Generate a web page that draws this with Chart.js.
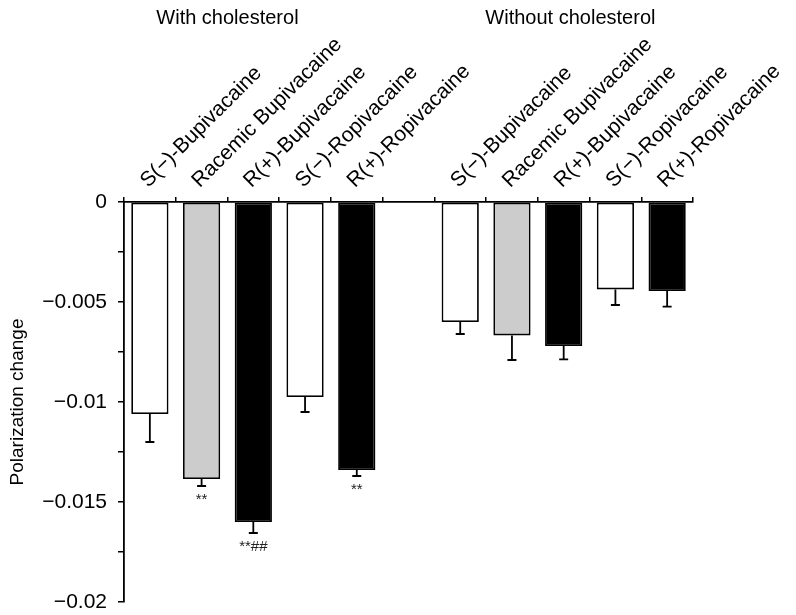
<!DOCTYPE html>
<html>
<head>
<meta charset="utf-8">
<script src="https://cdn.jsdelivr.net/npm/chart.js@4.4.0/dist/chart.umd.min.js"></script>
<style>
  html, body { margin: 0; padding: 0; background: #fff; }
  #wrap { width: 796px; height: 615px; position: relative; }
</style>
</head>
<body>
<div id="wrap"><canvas id="c" width="796" height="615"></canvas></div>
<script>
// ---- data ----
const categories = [
  'S(\u2212)-Bupivacaine', 'Racemic Bupivacaine', 'R(+)-Bupivacaine', 'S(\u2212)-Ropivacaine', 'R(+)-Ropivacaine',
  '',
  'S(\u2212)-Bupivacaine', 'Racemic Bupivacaine', 'R(+)-Bupivacaine', 'S(\u2212)-Ropivacaine', 'R(+)-Ropivacaine'
];
const values = [-0.0106, -0.01385, -0.0160, -0.00975, -0.0134, null, -0.0060, -0.00667, -0.0072, -0.00437, -0.00445];
const errors = [0.0014, 0.00035, 0.00055, 0.00075, 0.0003, null, 0.0006, 0.00123, 0.00067, 0.00078, 0.00078];
const marks  = ['', '**', '**##', '', '**', '', '', '', '', '', ''];
const barColors = ['#ffffff', '#cccccc', '#000000', '#ffffff', '#000000', '#ffffff', '#ffffff', '#cccccc', '#000000', '#ffffff', '#000000'];
const groupTitles = ['With cholesterol', 'Without cholesterol'];
const groupTitlePos = [1.5, 8.13];
const yTickLabels = { '0': '0', '-0.005': '\u22120.005', '-0.01': '\u22120.01', '-0.015': '\u22120.015', '-0.02': '\u22120.02' };

const FONT = "'Liberation Sans', Arial, sans-serif";

const extrasPlugin = {
  id: 'extras',
  afterDatasetsDraw(chart) {
    const ctx = chart.ctx;
    const x = chart.scales.x, y = chart.scales.y;
    ctx.save();
    ctx.strokeStyle = '#000';
    ctx.lineWidth = 1.8;
    values.forEach((v, i) => {
      if (v === null) return;
      const px = x.getPixelForValue(i);
      const y0 = y.getPixelForValue(v);
      const y1 = y.getPixelForValue(v - errors[i]);
      ctx.beginPath();
      ctx.moveTo(px, y0);
      ctx.lineTo(px, y1);
      ctx.moveTo(px - 4.5, y1);
      ctx.lineTo(px + 4.5, y1);
      ctx.stroke();
      if (marks[i]) {
        ctx.fillStyle = '#222';
        ctx.font = '15px ' + FONT;
        ctx.textAlign = 'center';
        ctx.textBaseline = 'top';
        ctx.fillText(marks[i], px, y1 + 6);
      }
    });
    ctx.fillStyle = '#000';
    ctx.font = '20px ' + FONT;
    ctx.textAlign = 'center';
    ctx.textBaseline = 'middle';
    groupTitles.forEach((t, k) => {
      ctx.fillText(t, x.getPixelForValue(groupTitlePos[k]), 18);
    });
    ctx.restore();
  }
};

new Chart(document.getElementById('c'), {
  type: 'bar',
  data: {
    labels: categories,
    datasets: [{
      data: values,
      backgroundColor: barColors,
      borderColor: '#000',
      borderWidth: 1.8,
      borderSkipped: false,
      categoryPercentage: 1.0,
      barPercentage: 0.72
    }]
  },
  options: {
    responsive: false,
    animation: false,
    devicePixelRatio: 1,
    layout: { padding: { left: 0, top: 0, right: 103, bottom: 13 } },
    plugins: { legend: { display: false }, tooltip: { enabled: false } },
    scales: {
      x: {
        position: 'top',
        grid: { display: true, drawOnChartArea: false, drawTicks: true, tickLength: 5, color: '#000', lineWidth: 1.5, offset: true },
        border: { display: true, color: '#000', width: 1.8 },
        ticks: {
          autoSkip: false, minRotation: 45, maxRotation: 45,
          color: '#000', font: { family: FONT, size: 21 }, padding: 4, labelOffset: 12
        },
        afterFit(scale) { scale.height = 202; }
      },
      y: {
        min: -0.02, max: 0,
        grid: { display: true, drawOnChartArea: false, drawTicks: true, tickLength: 6, color: '#000', lineWidth: 1.5 },
        border: { display: true, color: '#000', width: 1.8 },
        ticks: {
          stepSize: 0.0025,
          color: '#000', font: { family: FONT, size: 21 }, padding: 11,
          callback(v) {
            const key = String(Math.round(v * 1000) / 1000);
            const r = Math.round(v * 10000) / 10000;
            if (Math.abs(r * 200 - Math.round(r * 200)) > 1e-6) return '';
            return yTickLabels[key] !== undefined ? yTickLabels[key] : '';
          }
        },
        title: { display: true, text: 'Polarization change', color: '#000', font: { family: FONT, size: 19 }, padding: { top: 6, bottom: 0 } },
        afterFit(scale) { scale.width = 124; scale.paddingBottom = 0; scale.paddingTop = 0; }
      }
    }
  },
  plugins: [extrasPlugin]
});
</script>
</body>
</html>
